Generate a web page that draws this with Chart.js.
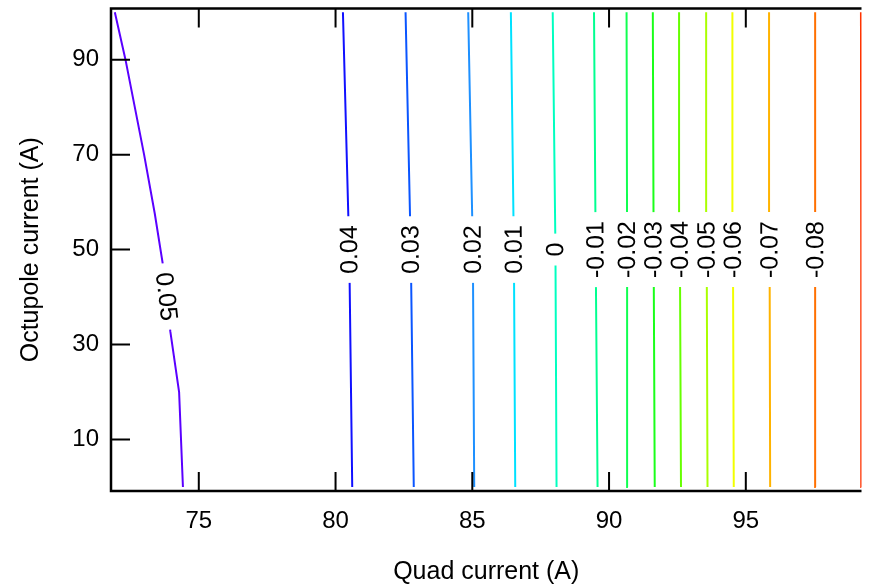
<!DOCTYPE html>
<html lang="en">
<head>
    <meta charset="UTF-8">
    <title>Tune contours</title>
    <script src="https://cdn.jsdelivr.net/npm/chart.js"></script>
    <style>
        body {
            margin: 0;
            padding: 0;
            background: white;
        }
        #wrap {
            width: 869px;
            height: 587px;
        }
    </style>
</head>
<body>
    <div id="wrap">
        <canvas id="contourChart" width="869" height="587"></canvas>
    </div>

    <script>
        // contour levels, left to right
        const levels = ['0.05', '0.04', '0.03', '0.02', '0.01', '0', '-0.01', '-0.02', '-0.03',
                        '-0.04', '-0.05', '-0.06', '-0.07', '-0.08', '-0.09'];
        const levelColors = ['#5a00ff', '#1010ff', '#0a55ff', '#1e90ff', '#00e1ff', '#00ffc0', '#00ff90',
                             '#10ff50', '#1aff1a', '#66ff00', '#aaff00', '#f2ff00', '#ffb300', '#ff7000', '#ff3300'];

        // octupole current sample points along each contour
        const octupoleBent = [0, 20, 32.7, 47.1, 57.6, 70, 90, 100];
        const octupoleStraight = [0, 50, 100];

        // quad current of each contour at those octupole points
        const quadOnContour = [
            [74.42, 74.28, 73.96, 73.68, 73.39, 73.0, 72.32, 71.93],
            [80.61, 80.50, 80.27],
            [82.86, 82.75, 82.56],
            [85.07, 85.02, 84.85],
            [86.57, 86.52, 86.41],
            [88.08, 88.04, 87.94],
            [89.58, 89.51, 89.45],
            [90.69, 90.66, 90.64],
            [91.67, 91.63, 91.60],
            [92.63, 92.59, 92.56],
            [93.60, 93.57, 93.55],
            [94.56, 94.53, 94.51],
            [95.89, 95.87, 95.85],
            [97.56, 97.54, 97.53],
            [99.23, 99.22, 99.21]
        ];
        // octupole value where each label sits (null = no label drawn)
        const labelAt = [40.1, 50, 50, 50, 50, 50, 50, 50, 50, 50, 50, 50, 50, 50, null];

        const quadTicks = [75, 80, 85, 90, 95];
        const octupoleTicks = [10, 30, 50, 70, 90];

        const FONT = '"Liberation Sans", Arial, sans-serif';

        const datasets = quadOnContour.map((qs, i) => {
            const ys = qs.length === octupoleBent.length ? octupoleBent : octupoleStraight;
            return {
                label: levels[i],
                data: qs.map((q, k) => ({ x: q, y: ys[k] })),
                showLine: true,
                borderColor: levelColors[i],
                borderWidth: 2,
                pointRadius: 0,
                tension: 0
            };
        });

        // no extra room for end labels, the plot area is fixed
        function noEdgePadding(s) {
            s.paddingTop = 0;
            s.paddingBottom = 0;
            s.paddingLeft = 0;
            s.paddingRight = 0;
        }

        // frame, inside ticks and the in-line contour labels
        const contourDecor = {
            id: 'contourDecor',
            afterDatasetsDraw(chart) {
                const { ctx, chartArea: a, scales: { x, y } } = chart;
                ctx.save();

                ctx.font = '25px ' + FONT;
                ctx.textAlign = 'center';
                ctx.textBaseline = 'middle';
                chart.data.datasets.forEach((ds, i) => {
                    if (labelAt[i] === null) return;
                    const pts = ds.data;
                    let k = 0;
                    while (k < pts.length - 2 && pts[k + 1].y < labelAt[i]) k++;
                    const p0 = pts[k], p1 = pts[k + 1];
                    const t = (labelAt[i] - p0.y) / (p1.y - p0.y);
                    const cx = x.getPixelForValue(p0.x + t * (p1.x - p0.x));
                    const cy = y.getPixelForValue(labelAt[i]);
                    const dx = x.getPixelForValue(p1.x) - x.getPixelForValue(p0.x);
                    const dy = y.getPixelForValue(p1.y) - y.getPixelForValue(p0.y);
                    let ang = Math.atan2(dy, dx);
                    if (ang < -Math.PI / 2 - 0.05) ang += Math.PI;
                    const w = ctx.measureText(ds.label).width + 18;
                    ctx.save();
                    ctx.translate(cx, cy);
                    ctx.rotate(ang);
                    ctx.fillStyle = '#fff';
                    ctx.fillRect(-w / 2, -8, w, 16);
                    ctx.fillStyle = '#000';
                    ctx.fillText(ds.label, 0, 1);
                    ctx.restore();
                });

                ctx.strokeStyle = '#000';
                ctx.lineWidth = 2;
                ctx.beginPath();
                quadTicks.forEach(v => {
                    const px = x.getPixelForValue(v);
                    ctx.moveTo(px, a.bottom);
                    ctx.lineTo(px, a.bottom - 19);
                    ctx.moveTo(px, a.top);
                    ctx.lineTo(px, a.top + 19);
                });
                octupoleTicks.forEach(v => {
                    const py = y.getPixelForValue(v);
                    ctx.moveTo(a.left, py);
                    ctx.lineTo(a.left + 19, py);
                });
                ctx.stroke();

                ctx.lineWidth = 2.5;
                ctx.beginPath();
                ctx.moveTo(a.right, a.top);
                ctx.lineTo(a.left, a.top);
                ctx.lineTo(a.left, a.bottom);
                ctx.lineTo(a.right, a.bottom);
                ctx.stroke();
                ctx.restore();
            }
        };

        new Chart(document.getElementById('contourChart'), {
            type: 'scatter',
            data: { datasets: datasets },
            options: {
                responsive: false,
                animation: false,
                layout: { padding: { top: 8.5, right: 7.5, left: 0, bottom: 0 } },
                plugins: {
                    legend: { display: false },
                    tooltip: { enabled: false }
                },
                scales: {
                    x: {
                        type: 'linear',
                        min: 71.79,
                        max: 99.23,
                        afterBuildTicks: s => { s.ticks = quadTicks.map(v => ({ value: v })); },
                        afterFit: s => { s.height = 96; noEdgePadding(s); },
                        grid: { display: false, drawTicks: false },
                        border: { display: false },
                        ticks: {
                            color: '#000',
                            padding: 16,
                            maxRotation: 0,
                            font: { family: FONT, size: 24 }
                        },
                        title: {
                            display: true,
                            text: 'Quad current (A)',
                            color: '#000',
                            padding: { bottom: 0 },
                            font: { family: FONT, size: 25 }
                        }
                    },
                    y: {
                        type: 'linear',
                        min: -0.85,
                        max: 100.78,
                        afterBuildTicks: s => { s.ticks = octupoleTicks.map(v => ({ value: v })); },
                        afterFit: s => { s.width = 111; noEdgePadding(s); },
                        grid: { display: false, drawTicks: false },
                        border: { display: false },
                        ticks: {
                            color: '#000',
                            padding: 12,
                            font: { family: FONT, size: 24 }
                        },
                        title: {
                            display: true,
                            text: 'Octupole current (A)',
                            color: '#000',
                            padding: { top: 16 },
                            font: { family: FONT, size: 25 }
                        }
                    }
                }
            },
            plugins: [contourDecor]
        });
    </script>
</body>
</html>
